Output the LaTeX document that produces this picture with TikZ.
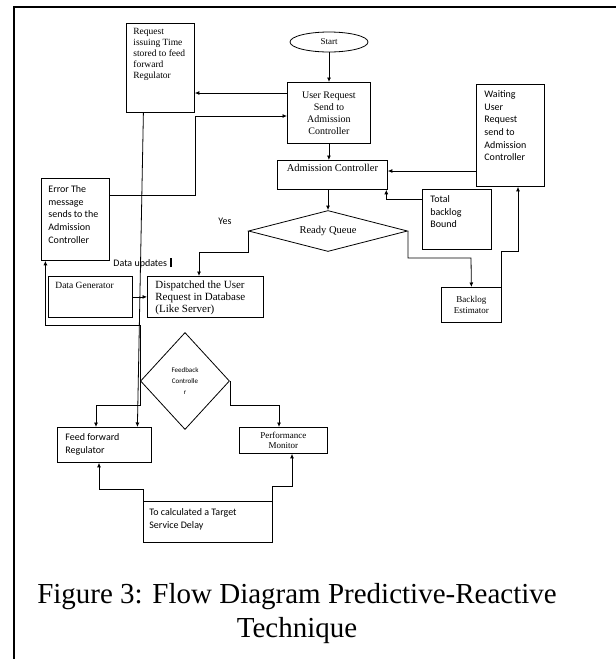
\documentclass[tikz,border=0pt]{standalone}
\usepackage{fontspec}
\setmainfont{Liberation Serif}
\setsansfont{Carlito}
\usetikzlibrary{shapes.geometric,arrows.meta}

\begin{document}
\begin{tikzpicture}[
  x=1pt, y=-1pt, line width=0.8pt,
  box/.style={draw, anchor=north west, inner sep=0},
  txt/.style={anchor=north west, inner sep=0, align=left},
  serif/.style 2 args={font=\rmfamily\fontsize{#1}{#2}\selectfont},
  sans/.style 2 args={font=\sffamily\fontsize{#1}{#2}\selectfont},
  arr/.style={-{Latex[length=4.5pt,width=4pt]}}
]
\useasboundingbox (0,0) rectangle (616,659);
\draw[line width=1.8pt] (14,659) -- (14,7) -- (616,7);

\node[draw, ellipse, minimum width=78, minimum height=20, inner sep=0, serif={9}{10}] (start) at (329,42) {Start};
\node[box, minimum width=83, minimum height=61, align=center, serif={10}{12}] (ureq) at (287,82) {User Request\\Send to\\Admission\\Controller};
\node[box, minimum width=68, minimum height=89] (reqtime) at (126,23) {};
\node[txt, serif={9.5}{11}] (reqtimetxt) at ([shift={(7,5)}]reqtime.north west) {Request\\issuing Time\\stored to feed\\forward\\Regulator};
\node[box, minimum width=110, text height=8pt, text depth=15pt, inner ysep=3pt, serif={10.5}{12}] (admc) at (277,160) {Admission Controller};
\node[box, minimum width=68, minimum height=102] (wait) at (476,84) {};
\node[txt, sans={10}{12.7}] (waittxt) at ([shift={(8,6)}]wait.north west) {Waiting\\User\\Request\\send to\\Admission\\Controller};
\node[box, minimum width=69, minimum height=60] (total) at (422,189) {};
\node[txt, sans={10}{12.7}] (totaltxt) at ([shift={(8,6)}]total.north west) {Total\\backlog\\Bound};
\node[diamond, draw, aspect=3.9, minimum width=159, minimum height=41, inner sep=0, serif={10.5}{12}] (rq) at (328,231) {Ready Queue};
\node[anchor=west, inner sep=0, sans={10}{12}] (yes) at (218,221) {Yes};
\node[box, minimum width=60, minimum height=35, align=center, serif={9}{10.5}] (backlog) at (441,287) {Backlog\\Estimator};
\node[box, minimum width=68, minimum height=82] (error) at (41,178) {};
\node[txt, sans={10}{12.7}] (errortxt) at ([shift={(7,7)}]error.north west) {Error The\\message\\sends to the\\Admission\\Controller};
\node[box, minimum width=116, minimum height=41] (disp) at (147,276) {};
\node[txt, serif={11}{12.3}] (disptxt) at ([shift={(8,4)}]disp.north west) {Dispatched the User\\Request in Database\\(Like Server)};
\node[box, minimum width=84, minimum height=41] (datagen) at (48,276) {};
\node[txt, serif={9.5}{11}] (datagentxt) at ([shift={(7,6)}]datagen.north west) {Data Generator};
\node[anchor=west, inner sep=0, sans={10}{12}] (dataupd) at (113,263) {Data updates\hspace{3pt}\rule[-1pt]{1.8pt}{9pt}};
\node[diamond, draw, aspect=0.92, minimum width=89, minimum height=97, inner sep=0, align=center, sans={7}{11}] (fb) at (185,381) {Feedback\\Controlle\\r};
\node[box, minimum width=94, minimum height=35] (ffreg) at (57,427) {};
\node[txt, sans={10}{12.7}] (ffregtxt) at ([shift={(8,6)}]ffreg.north west) {Feed forward\\Regulator};
\node[box, minimum width=88, minimum height=26, align=center, serif={9}{10}] (perf) at (239,427) {Performance\\Monitor};
\node[box, minimum width=129, minimum height=41] (tcalc) at (143,501) {};
\node[txt, sans={10}{12.7}] (tcalctxt) at ([shift={(6,7)}]tcalc.north west) {To calculated a Target\\Service Delay};
\node[anchor=north, inner sep=0, align=center, serif={29}{34}] (caption) at (297,583) {Figure 3: Flow Diagram Predictive-Reactive\\Technique};

\draw[arr] (start) -- (ureq.north -| start);
\draw[arr] (ureq.west |- 0,93) -- (reqtime.east |- 0,93);
\draw[arr] (error.east |- 0,195) -| (195,116) -- (ureq.west |- 0,116);
\draw[arr] (ureq.south) -- (ureq.south |- admc.north);
\draw[arr] (wait.west |- 0,171) -- (admc.east |- 0,171);
\draw[arr] (total.west |- 0,199) -| ([xshift=-1.5pt]admc.south east);
\draw[arr] (rq.north |- admc.south) -- (rq.north);
\draw[arr] (rq.west) |- (199,252) -- (disp.north -| 199,0);
\draw[arr] (rq.east) |- (471,258) -- (backlog.north);
\draw[arr] (backlog.north east) |- (518,251) -- (wait.south -| 518,0);
\draw[arr] (datagen) -- (disp);
\draw[arr] ([xshift=-17pt]reqtime.south) -- ([xshift=33pt]ffreg.north);
\draw[arr] (fb.west) -- (fb.west |- 0,325) -| ([xshift=-30pt]error.south);
\draw[arr] (fb.west) |- (96,405) -- (ffreg.north -| 96,0);
\draw[arr] (fb.east) |- (279,405) -- (perf.north -| 279,0);
\draw[arr] (tcalc.north west) |- (99,489) -- (ffreg.south -| 99,0);
\draw[arr] (tcalc.north east) |- (292,486) -- (perf.south -| 292,0);
\end{tikzpicture}
\end{document}
